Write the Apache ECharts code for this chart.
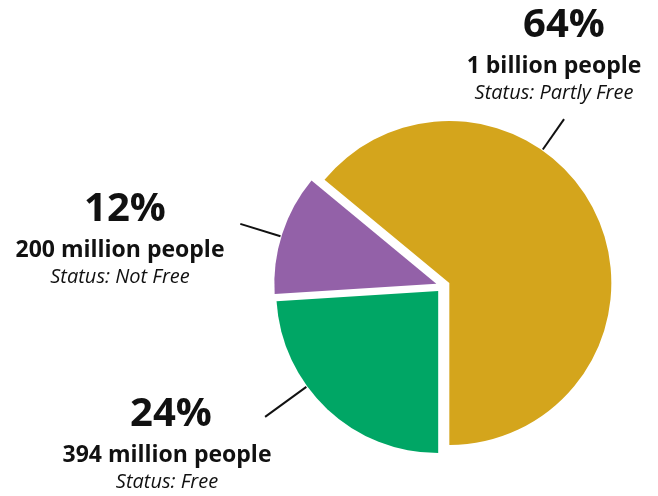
<!DOCTYPE html>
<html>
<head>
<meta charset="utf-8">
<script src="https://cdn.jsdelivr.net/npm/echarts@6/dist/echarts.min.js"></script>
<style>
  html, body { margin: 0; padding: 0; background: #ffffff; }
  #chart { width: 658px; height: 496px; }
</style>
</head>
<body>
<div id="chart"></div>
<script>
// Population by freedom status
const statuses = ['Free', 'Not Free', 'Partly Free'];
const shares = [24, 12, 64];
const peopleLabels = ['394 million people', '200 million people', '1 billion people'];

const sliceColors = ['#00A665', '#9361A8', '#D4A51C'];

// Pie geometry (px)
const CENTER = [443, 286];
const RADIUS = 162;
const OFFSET = 7;          // every slice is pulled out a little
const START_ANGLE = -90;   // slices run clockwise from 6 o'clock

// Label block placement: centre x, baseline of the big percentage,
// nudge of the percentage, leader-line direction (degrees clockwise
// from 12 o'clock) and length
const labelPlacement = [
  { x: 167, base: 427, pctDx: 4,  angle: 234, len: 52 },
  { x: 120, base: 222, pctDx: 5,  angle: 287, len: 43 },
  { x: 554, base: 38,  pctDx: 10, angle: 35,  len: 38 }
];

const FONT = 'Open Sans';
const INK = '#111111';
const PCT_SIZE = 40, PPL_SIZE = 23, ST_SIZE = 20;
const PPL_GAP = 36, ST_GAP = 26;

const total = shares.reduce((a, b) => a + b, 0);

// centre of each pulled-out slice
function sliceCentre(i) {
  let before = 0;
  for (let k = 0; k < i; k++) before += shares[k];
  const mid = (180 + (before + shares[i] / 2) / total * 360) * Math.PI / 180;
  return [CENTER[0] + OFFSET * Math.sin(mid), CENTER[1] - OFFSET * Math.cos(mid)];
}

function polar(c, r, deg) {
  const a = deg * Math.PI / 180;
  return [c[0] + r * Math.sin(a), c[1] - r * Math.cos(a)];
}

// text element placed by its alphabetic baseline
function textAt(x, baseline, text, size, weight, style) {
  return {
    type: 'text',
    silent: true,
    style: {
      text: text,
      x: x,
      y: baseline - 0.32 * size,
      align: 'center',
      verticalAlign: 'middle',
      fill: INK,
      fontFamily: FONT,
      fontSize: size,
      fontWeight: weight,
      fontStyle: style
    }
  };
}

const labelGraphics = [];
statuses.forEach((s, i) => {
  const lp = labelPlacement[i];
  const c = sliceCentre(i);
  const p1 = polar(c, RADIUS + 1, lp.angle);
  const p2 = polar(c, RADIUS + lp.len, lp.angle);
  labelGraphics.push({
    type: 'polyline',
    silent: true,
    shape: { points: [p1, p2] },
    style: { stroke: INK, lineWidth: 2, fill: null }
  });
  labelGraphics.push(textAt(lp.x + lp.pctDx, lp.base, shares[i] + '%', PCT_SIZE, 'bold', 'normal'));
  labelGraphics.push(textAt(lp.x, lp.base + PPL_GAP, peopleLabels[i], PPL_SIZE, 'bold', 'normal'));
  labelGraphics.push(textAt(lp.x, lp.base + PPL_GAP + ST_GAP, 'Status: ' + s, ST_SIZE, 'normal', 'italic'));
});

const chart = echarts.init(document.getElementById('chart'), null, { renderer: 'canvas' });

chart.setOption({
  animation: false,
  graphic: labelGraphics,
  series: [{
    type: 'pie',
    center: CENTER,
    radius: RADIUS,
    startAngle: START_ANGLE,
    clockwise: true,
    selectedMode: 'multiple',
    selectedOffset: OFFSET,
    emphasis: { scale: false },
    label: { show: false },
    labelLine: { show: false },
    data: statuses.map((s, i) => ({
      name: s,
      value: shares[i],
      selected: true,
      itemStyle: { color: sliceColors[i] }
    }))
  }]
});
</script>
</body>
</html>
